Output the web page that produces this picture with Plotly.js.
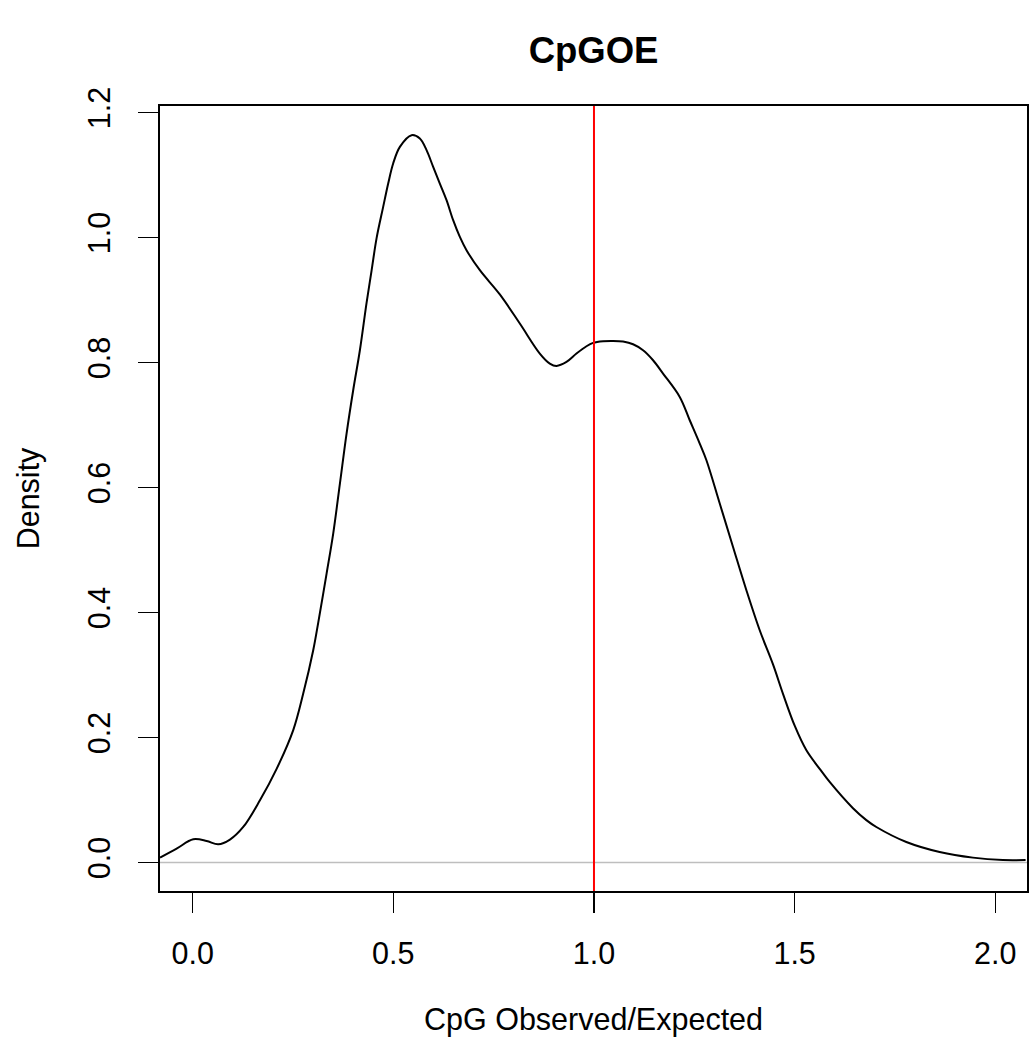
<!DOCTYPE html>
<html>
<head>
<meta charset="utf-8">
<script src="https://cdn.plot.ly/plotly-3.0.1.min.js"></script>
<style>html,body{margin:0;padding:0;background:#fff;}#chart{width:1029px;height:1051px;}</style>
</head>
<body>
<div id="chart"></div>
<script>
// Density estimate of CpG observed/expected ratio
const densityX = [-0.0814, -0.040, 0.0015, 0.0349, 0.0638, 0.0929, 0.1260, 0.1676, 0.2092, 0.2506, 0.2755, 0.3004, 0.3129, 0.3337, 0.3502, 0.3669, 0.3835, 0.4000, 0.4167, 0.4334, 0.4458, 0.4583, 0.4747, 0.4872, 0.4996, 0.5163, 0.5455, 0.5661, 0.5828, 0.5993, 0.6159, 0.6326, 0.6491, 0.6658, 0.6824, 0.7156, 0.7654, 0.8152, 0.8650, 0.8899, 0.9066, 0.9315, 0.9564, 0.9813, 0.9978, 1.0227, 1.0476, 1.0725, 1.0974, 1.1223, 1.1472, 1.1721, 1.2137, 1.2386, 1.2635, 1.2802, 1.3134, 1.3465, 1.3798, 1.4130, 1.4461, 1.4710, 1.5001, 1.5293, 1.5624, 1.5873, 1.6454, 1.6787, 1.7036, 1.7783, 1.8613, 1.9442, 2.0189, 2.0755];
const densityY = [0.0080, 0.0224, 0.0373, 0.0346, 0.0293, 0.0368, 0.0570, 0.0997, 0.1500, 0.2120, 0.2704, 0.3397, 0.3840, 0.4624, 0.5264, 0.6064, 0.6864, 0.7557, 0.8197, 0.8960, 0.9470, 0.9990, 1.0490, 1.0864, 1.1184, 1.1450, 1.1637, 1.1584, 1.1397, 1.1130, 1.0864, 1.0597, 1.0277, 1.0010, 0.9797, 0.9477, 0.9090, 0.8624, 0.8144, 0.7984, 0.7946, 0.8010, 0.8144, 0.8261, 0.8314, 0.8341, 0.8346, 0.8336, 0.8293, 0.8197, 0.8037, 0.7824, 0.7450, 0.7077, 0.6704, 0.6437, 0.5744, 0.5050, 0.4357, 0.3717, 0.3170, 0.2700, 0.2190, 0.1797, 0.1500, 0.1290, 0.0870, 0.0680, 0.0570, 0.0330, 0.0170, 0.0080, 0.0042, 0.0042];
const referenceX = 1.0;
const baselineY = 0;
const xTicks = [0.0, 0.5, 1.0, 1.5, 2.0];
const xTickLabels = ["0.0", "0.5", "1.0", "1.5", "2.0"];
const yTicks = [0.0, 0.2, 0.4, 0.6, 0.8, 1.0, 1.2];
const yTickLabels = ["0.0", "0.2", "0.4", "0.6", "0.8", "1.0", "1.2"];

const font = "Liberation Sans, Arial, Helvetica, sans-serif";
const fs = 30.5;

const traces = [
  {
    x: densityX, y: densityY, type: 'scatter', mode: 'lines',
    line: {color: '#000000', width: 2, shape: 'spline', smoothing: 1},
    hoverinfo: 'skip', showlegend: false
  }
];

const layout = {
  width: 1029, height: 1051,
  paper_bgcolor: '#ffffff', plot_bgcolor: '#ffffff',
  margin: {l: 160, r: 2, t: 106, b: 160, pad: 0},
  showlegend: false,
  title: {
    text: '<b>CpGOE</b>',
    font: {family: font, size: 36.5, color: '#000000'},
    x: 0.5768, xanchor: 'center', y: 0.9524, yanchor: 'middle'
  },
  xaxis: {
    range: [-0.0814, 2.079],
    tickmode: 'array', tickvals: xTicks, ticktext: xTickLabels,
    ticks: 'outside', ticklen: 20, tickwidth: 1.5, tickcolor: '#000000',
    showline: true, linecolor: '#000000', linewidth: 2, mirror: true,
    showgrid: false, zeroline: false,
    tickfont: {family: font, size: fs, color: '#000000'},
    ticklabelstandoff: 14,
    title: {text: 'CpG Observed/Expected', font: {family: font, size: fs, color: '#000000'}, standoff: 40}
  },
  yaxis: {
    range: [-0.0454, 1.2104],
    tickmode: 'array', tickvals: yTicks, ticktext: yTickLabels,
    tickangle: -90,
    ticks: 'outside', ticklen: 20, tickwidth: 1.5, tickcolor: '#000000',
    showline: true, linecolor: '#000000', linewidth: 2, mirror: true,
    showgrid: false, zeroline: false,
    tickfont: {family: font, size: fs, color: '#000000'},
    ticklabelstandoff: 16,
    title: {text: 'Density', font: {family: font, size: fs, color: '#000000'}, standoff: 33}
  },
  shapes: [
    {type: 'line', xref: 'paper', yref: 'y', x0: 0, x1: 1, y0: baselineY, y1: baselineY,
     line: {color: '#bebebe', width: 1.5}, layer: 'below'},
    {type: 'line', xref: 'x', yref: 'paper', x0: referenceX, x1: referenceX, y0: 0, y1: 1,
     line: {color: '#ff0000', width: 2}, layer: 'above'}
  ]
};

Plotly.newPlot('chart', traces, layout, {staticPlot: true, displayModeBar: false});
</script>
</body>
</html>
